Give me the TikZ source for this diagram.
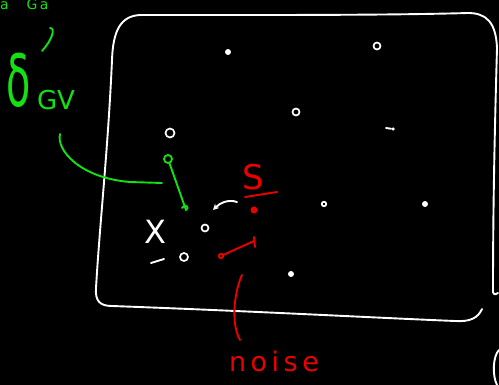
\documentclass[tikz,border=0pt]{standalone}
\usepackage{fontspec}
\setmainfont{DejaVu Sans}
\usetikzlibrary{arrows.meta}
\definecolor{chalkgreen}{RGB}{20,225,20}
\definecolor{chalkred}{RGB}{235,0,0}
\begin{document}
\begin{tikzpicture}[x=1pt,y=-1pt,line cap=round,line join=round,
  chalk/.style={white,line width=1.9pt},
  gink/.style={chalkgreen,line width=1.9pt},
  rink/.style={chalkred,line width=1.9pt},
  ring/.style={circle,draw=white,line width=1.7pt,inner sep=0pt,minimum width=5pt,minimum height=7pt},
  blob/.style={circle,fill=white,inner sep=0pt,minimum size=6pt},
  hand/.style={inner sep=0pt,font=\fontsize{#1}{#1}\selectfont}]
\fill[black] (0,0) rectangle (499,385);
\useasboundingbox (0,0) rectangle (499,385);
\clip (0,0) rectangle (499,385);

% frame of the region
\draw[chalk] (493,292) .. controls (493,200) and (495,120) .. (497,48)
  .. controls (496,22) and (486,13) .. (468,13)
  .. controls (400,15) and (300,15) .. (230,15) -- (140,15)
  .. controls (121,16) and (113,30) .. (112,60)
  .. controls (108,150) and (100,220) .. (96,288)
  .. controls (95,301) and (100,306) .. (112,306)
  .. controls (250,311) and (380,318) .. (455,321)
  .. controls (470,322) and (478,318) .. (482,309);
\draw[chalk] (493,292) .. controls (494,295) and (496,295) .. (498,293);
\draw[chalk] (499,350) .. controls (493,356) and (492,375) .. (497,385);

% sample points
\node[blob] (p1) at (228,52) {};
\node[ring,minimum width=3pt] (p2) at (377,46) {};
\node[ring] (p3) at (296,112) {};
\node[blob,minimum size=3.5pt] (p4) at (393,129) {};
\coordinate (p4a) at (386,128);
\draw[chalk] (p4a) -- (p4);
\node[ring,minimum height=9pt] (p5) at (170,133) {};
\node[ring,minimum size=4.5pt] (p6) at (324,204) {};
\node[blob] (p7) at (425,204) {};
\node[blob] (p8) at (291,274) {};
\node[ring] (p9) at (205,228) {};
\node[ring,minimum width=6pt,minimum height=8pt] (p10) at (184,257) {};
\coordinate (dashA) at (151,263);
\coordinate (dashB) at (164,259);
\draw[chalk] (dashA) -- (dashB);

% labels and arrow
\node[hand=32,white] (xlab) at (155,232) {X};
\coordinate (arrS) at (237,202);
\coordinate (arrE) at (213,210);
\draw[chalk,-{Stealth[length=6pt,width=6pt]}] (arrS) .. controls (228,199) and (220,203) .. (arrE);

% signal
\node[hand=34,chalkred] (slab) at (253,177) {S};
\coordinate (ulA) at (245,197);
\coordinate (ulB) at (277,192);
\draw[rink] (ulA) -- (ulB);
\node[circle,fill=chalkred,inner sep=0pt,minimum size=7pt] (sdot) at (254,210) {};
\node[circle,draw=chalkred,line width=1.8pt,inner sep=0pt,minimum size=4.5pt] (nA) at (221,256) {};
\coordinate (nB) at (254,241);
\draw[rink] (nA) -- (nB);
\draw[rink] (254,237) -- (255,247);

% noise annotation
\coordinate (nzA) at (242,275);
\coordinate (nzB) at (240,340);
\draw[rink] (nzA) .. controls (235,290) and (230,322) .. (nzB);
\node[hand=27,chalkred] (noise) at (274,361) {n\,o\,i\,s\,e};

% green notes
\node[hand=14,chalkgreen,anchor=base west] (topnote) at (0,10) {a\quad\;G\,a};
\coordinate (hkA) at (50,28);
\coordinate (hkB) at (42,51);
\draw[gink] (hkA) .. controls (56,28) and (52,40) .. (hkB);
\node[hand=72,chalkgreen] (delta) at (19,80) {\scalebox{0.55}[1]{δ}};
\node[hand=26,chalkgreen] (gv) at (56,100) {GV};
\coordinate (gA) at (60,134);
\coordinate (gB) at (162,183);
\draw[gink] (gA) .. controls (56,150) and (80,178) .. (130,182) -- (gB);
\node[circle,draw=chalkgreen,line width=1.8pt,inner sep=0pt,minimum size=8pt] (gc) at (168,159) {};
\coordinate (gE) at (186,210);
\draw[gink] (gc) -- (gE);
\draw[gink] (182,208) .. controls (186,203) and (190,208) .. (186,210);
\end{tikzpicture}
\end{document}
